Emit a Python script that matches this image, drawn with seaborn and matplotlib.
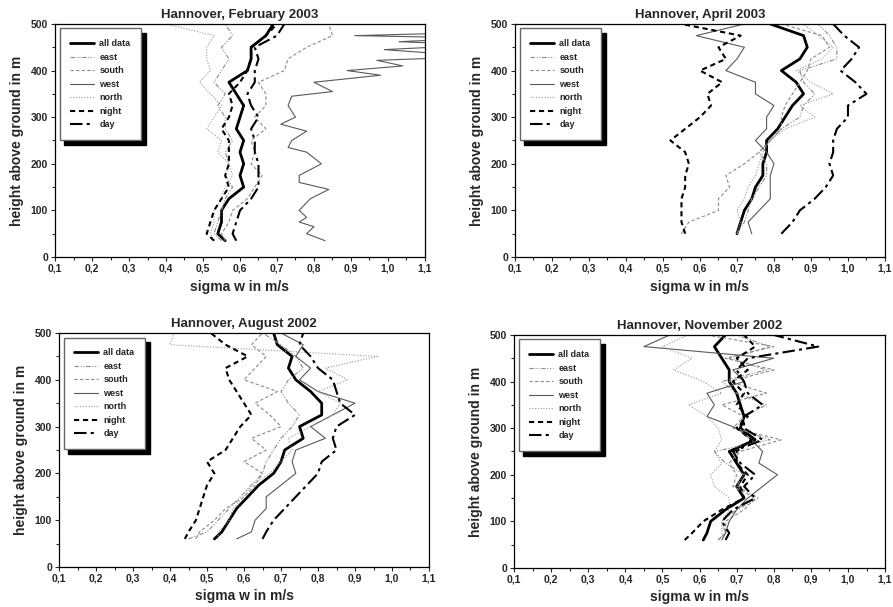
import matplotlib
matplotlib.use('Agg')
from matplotlib import pyplot as plt
from matplotlib.ticker import MultipleLocator, FuncFormatter
import seaborn as sns

# ---- February 2003 ----
feb_h = [35, 50, 75, 100, 125, 150, 175, 200, 225, 250, 275, 300, 325, 350, 375, 400, 425, 450, 475, 500]
feb_all = [0.56, 0.54, 0.55, 0.55, 0.57, 0.61, 0.60, 0.61, 0.60, 0.61, 0.59, 0.60, 0.61, 0.59, 0.57, 0.62, 0.63, 0.63, 0.67, 0.69]
feb_east = [0.55, 0.53, 0.54, 0.55, 0.56, 0.58, 0.56, 0.57, 0.56, 0.58, 0.56, 0.56, 0.54, 0.56, 0.53, 0.55, 0.57, 0.55, 0.58, 0.56]
feb_south = [0.56, 0.55, 0.57, 0.58, 0.62, 0.64, 0.66, 0.63, 0.64, 0.63, 0.67, 0.64, 0.67, 0.67, 0.65, 0.72, 0.73, 0.78, 0.85, 0.84]
feb_north = [0.53, 0.52, 0.53, 0.53, 0.55, 0.56, 0.58, 0.57, 0.54, 0.55, 0.51, 0.53, 0.55, 0.52, 0.49, 0.52, 0.51, 0.51, 0.53, 0.40]
feb_night = [0.53, 0.51, 0.52, 0.53, 0.55, 0.57, 0.56, 0.57, 0.57, 0.57, 0.55, 0.57, 0.58, 0.57, 0.60, 0.62, 0.63, 0.63, 0.67, 0.70]
feb_day = [0.59, 0.58, 0.59, 0.60, 0.63, 0.65, 0.65, 0.65, 0.64, 0.64, 0.63, 0.65, 0.63, 0.62, 0.64, 0.64, 0.65, 0.64, 0.70, 0.72]
feb_west_h = [35, 50, 65, 75, 85, 100, 125, 145, 160, 175, 200, 225, 235, 250, 270, 285, 300, 325, 345, 355,
              375, 390, 400, 410, 422, 430, 445, 455, 462, 470, 475, 482]
feb_west = [0.83, 0.78, 0.80, 0.76, 0.78, 0.76, 0.79, 0.84, 0.76, 0.76, 0.82, 0.78, 0.73, 0.74, 0.78, 0.71, 0.75, 0.73, 0.74, 0.85,
            0.80, 0.98, 0.89, 1.04, 0.97, 1.25, 0.99, 1.25, 1.03, 1.25, 0.91, 1.25]

# ---- April 2003 ----
apr_h = [50, 75, 100, 125, 150, 175, 200, 225, 250, 275, 300, 325, 350, 375, 400, 425, 450, 475, 500]
apr_all = [0.70, 0.71, 0.72, 0.74, 0.75, 0.77, 0.77, 0.78, 0.78, 0.81, 0.83, 0.85, 0.88, 0.86, 0.82, 0.87, 0.89, 0.88, 0.79]
apr_east = [0.70, 0.72, 0.73, 0.74, 0.76, 0.78, 0.78, 0.76, 0.79, 0.82, 0.87, 0.88, 0.91, 0.88, 0.87, 0.97, 0.97, 0.95, 0.92]
apr_south = [0.55, 0.57, 0.65, 0.65, 0.68, 0.67, 0.72, 0.76, 0.79, 0.82, 0.82, 0.83, 0.85, 0.87, 0.89, 0.90, 0.95, 0.93, 0.82]
apr_west = [0.74, 0.73, 0.76, 0.79, 0.79, 0.79, 0.80, 0.78, 0.75, 0.78, 0.78, 0.80, 0.75, 0.75, 0.67, 0.70, 0.72, 0.59, 0.72]
apr_north = [0.70, 0.71, 0.70, 0.72, 0.73, 0.75, 0.76, 0.77, 0.79, 0.83, 0.91, 0.87, 0.96, 0.90, 0.86, 0.93, 0.96, 0.92, 0.88]
apr_night = [0.56, 0.55, 0.55, 0.55, 0.56, 0.56, 0.57, 0.56, 0.52, 0.56, 0.60, 0.63, 0.62, 0.66, 0.60, 0.67, 0.65, 0.71, 0.55]
apr_day = [0.82, 0.85, 0.87, 0.91, 0.94, 0.96, 0.95, 0.96, 0.96, 0.97, 1.00, 1.00, 1.05, 1.02, 0.98, 1.01, 1.03, 0.99, 0.96]

# ---- August 2002 ----
aug_h = [60, 75, 100, 125, 150, 175, 200, 225, 250, 275, 300, 325, 350, 375, 400, 425, 450, 475, 500]
aug_all = [0.52, 0.54, 0.56, 0.58, 0.61, 0.64, 0.68, 0.70, 0.71, 0.76, 0.75, 0.81, 0.81, 0.78, 0.74, 0.72, 0.73, 0.69, 0.68]
aug_east = [0.45, 0.50, 0.53, 0.56, 0.59, 0.62, 0.65, 0.66, 0.68, 0.70, 0.73, 0.75, 0.72, 0.70, 0.72, 0.76, 0.74, 0.70, 0.65]
aug_south = [0.47, 0.48, 0.52, 0.55, 0.60, 0.63, 0.65, 0.60, 0.66, 0.62, 0.70, 0.67, 0.63, 0.69, 0.60, 0.63, 0.66, 0.62, 0.65]
aug_west = [0.58, 0.62, 0.63, 0.66, 0.66, 0.70, 0.74, 0.73, 0.74, 0.82, 0.78, 0.84, 0.90, 0.80, 0.75, 0.78, 0.74, 0.76, 0.70]
aug_north = [0.53, 0.53, 0.56, 0.57, 0.60, 0.62, 0.67, 0.70, 0.73, 0.72, 0.78, 0.84, 0.86, 0.80, 0.88, 0.82, 0.96, 0.40, 0.41]
aug_night = [0.44, 0.45, 0.47, 0.48, 0.49, 0.50, 0.52, 0.50, 0.55, 0.57, 0.59, 0.62, 0.60, 0.58, 0.56, 0.55, 0.61, 0.55, 0.51]
aug_day = [0.65, 0.66, 0.68, 0.71, 0.74, 0.77, 0.80, 0.81, 0.85, 0.84, 0.85, 0.90, 0.86, 0.85, 0.84, 0.80, 0.78, 0.75, 0.76]

# ---- November 2002 ----
nov_h = [60, 75, 100, 125, 150, 175, 200, 225, 250, 275, 300, 325, 350, 375, 400, 425, 450, 475, 500]
nov_all = [0.61, 0.62, 0.63, 0.67, 0.72, 0.70, 0.72, 0.70, 0.68, 0.75, 0.71, 0.72, 0.71, 0.70, 0.68, 0.68, 0.66, 0.64, 0.67]
nov_east = [0.65, 0.67, 0.66, 0.70, 0.76, 0.70, 0.72, 0.67, 0.64, 0.79, 0.70, 0.72, 0.78, 0.70, 0.66, 0.78, 0.68, 0.79, 0.70]
nov_south = [0.65, 0.67, 0.67, 0.72, 0.75, 0.69, 0.70, 0.68, 0.71, 0.82, 0.69, 0.72, 0.66, 0.78, 0.68, 0.80, 0.67, 0.80, 0.62]
nov_west = [0.66, 0.67, 0.68, 0.70, 0.73, 0.77, 0.81, 0.76, 0.77, 0.74, 0.70, 0.62, 0.64, 0.62, 0.72, 0.69, 0.80, 0.45, 0.52]
nov_north = [0.66, 0.66, 0.66, 0.68, 0.68, 0.64, 0.63, 0.66, 0.64, 0.66, 0.65, 0.62, 0.57, 0.66, 0.61, 0.53, 0.58, 0.50, 0.57]
nov_night = [0.56, 0.58, 0.61, 0.66, 0.72, 0.71, 0.73, 0.70, 0.70, 0.74, 0.70, 0.73, 0.70, 0.72, 0.69, 0.73, 0.70, 0.75, 0.72]
nov_day = [0.67, 0.68, 0.66, 0.69, 0.75, 0.72, 0.75, 0.71, 0.69, 0.77, 0.72, 0.72, 0.77, 0.73, 0.72, 0.70, 0.73, 0.92, 0.80]

labels = ['all data', 'east', 'south', 'west', 'north', 'night', 'day']

styles = {
    'all data': dict(color='black', lw=2.0, linestyle='-'),
    'east': dict(color='#8a8a8a', lw=0.8, linestyle=(0, (4, 1.5, 1, 1.5, 1, 1.5))),
    'south': dict(color='#8a8a8a', lw=0.8, linestyle=(0, (3, 2))),
    'west': dict(color='#5a5a5a', lw=0.8, linestyle='-'),
    'north': dict(color='#9a9a9a', lw=0.8, linestyle=(0, (1, 1.5))),
    'night': dict(color='black', lw=1.5, linestyle=(0, (2.5, 1.8))),
    'day': dict(color='black', lw=1.5, linestyle=(0, (6, 2, 1.5, 2))),
}

panels = [
    ('Hannover, February 2003', [0.0616, 0.5766, 0.4143, 0.3839],
     [(feb_all, feb_h), (feb_east, feb_h), (feb_south, feb_h), (feb_west, feb_west_h),
      (feb_north, feb_h), (feb_night, feb_h), (feb_day, feb_h)]),
    ('Hannover, April 2003', [0.5767, 0.5766, 0.4143, 0.3839],
     [(apr_all, apr_h), (apr_east, apr_h), (apr_south, apr_h), (apr_west, apr_h),
      (apr_north, apr_h), (apr_night, apr_h), (apr_day, apr_h)]),
    ('Hannover, August 2002', [0.0661, 0.0659, 0.4143, 0.3855],
     [(aug_all, aug_h), (aug_east, aug_h), (aug_south, aug_h), (aug_west, aug_h),
      (aug_north, aug_h), (aug_night, aug_h), (aug_day, aug_h)]),
    ('Hannover, November 2002', [0.5756, 0.0643, 0.4155, 0.3839],
     [(nov_all, nov_h), (nov_east, nov_h), (nov_south, nov_h), (nov_west, nov_h),
      (nov_north, nov_h), (nov_night, nov_h), (nov_day, nov_h)]),
]

sns.set_style('ticks')
plt.rcParams['font.family'] = ['Liberation Sans', 'DejaVu Sans']
plt.rcParams['font.weight'] = 'bold'
plt.rcParams['axes.labelweight'] = 'bold'
plt.rcParams['axes.titleweight'] = 'bold'

fig = plt.figure(figsize=(8.93, 6.07), dpi=100)

comma = FuncFormatter(lambda v, p: f'{v:.1f}'.replace('.', ','))

for title, rect, series in panels:
    ax = fig.add_axes(rect)
    for name, (vals, hs) in zip(labels, series):
        sns.lineplot(x=vals, y=hs, orient='y', sort=False, estimator=None, ax=ax,
                     label=name, **styles[name])
    ax.set_xlim(0.1, 1.1)
    ax.set_ylim(0, 500)
    ax.xaxis.set_major_locator(MultipleLocator(0.1))
    ax.xaxis.set_minor_locator(MultipleLocator(0.05))
    ax.yaxis.set_major_locator(MultipleLocator(100))
    ax.yaxis.set_minor_locator(MultipleLocator(50))
    ax.xaxis.set_major_formatter(comma)
    ax.tick_params(which='major', direction='out', length=3, width=0.8, labelsize=7.5, pad=2)
    ax.tick_params(which='minor', direction='out', length=2, width=0.8)
    for s in ax.spines.values():
        s.set_color('black')
        s.set_linewidth(0.9)
    ax.set_title(title, fontsize=9.5, pad=4)
    ax.set_xlabel('sigma w in m/s', fontsize=10, labelpad=4)
    ax.set_ylabel('height above ground in m', fontsize=10, labelpad=5)
    ax.legend(loc='upper left', frameon=True, fancybox=False,
              shadow={'color': 'black', 'alpha': 1, 'ox': 3.5, 'oy': -3.5},
              edgecolor='#666666', framealpha=1, fontsize=6.5, handlelength=2.6,
              handletextpad=0.6, borderpad=1.2, labelspacing=0.5, borderaxespad=0.5)

fig.savefig('out.png', dpi=100)
